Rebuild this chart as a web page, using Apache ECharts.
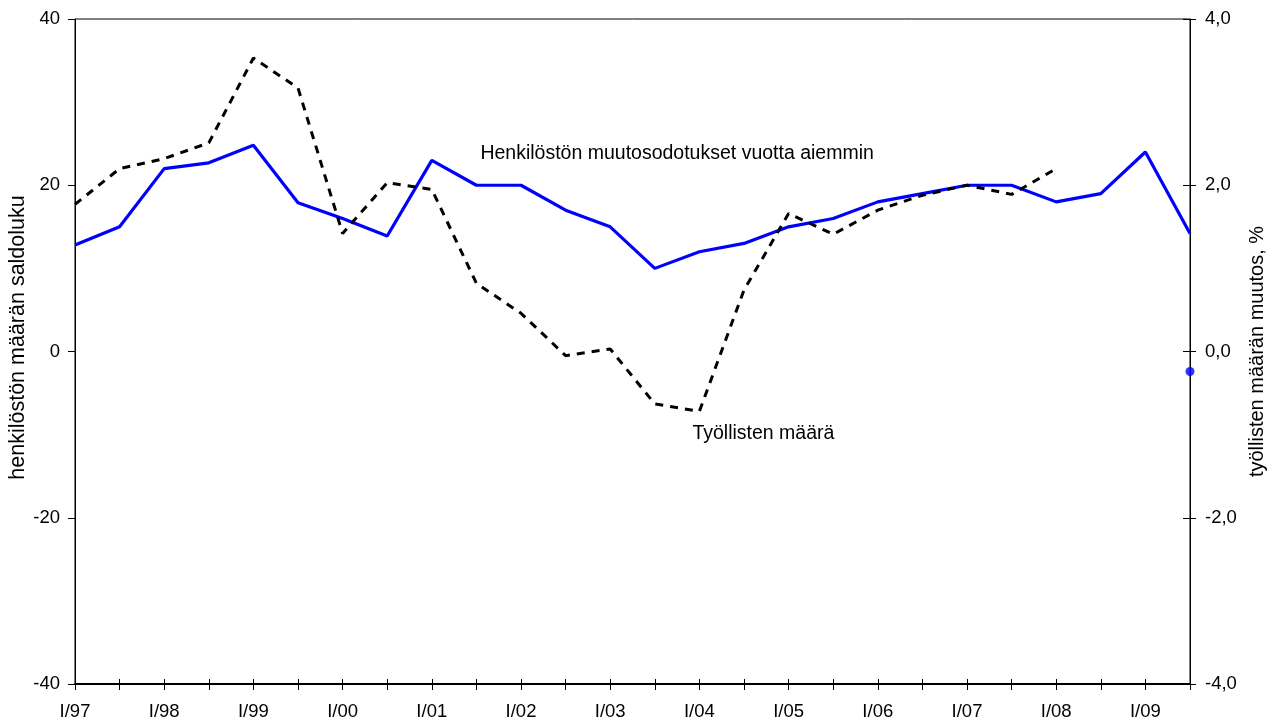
<!DOCTYPE html>
<html>
<head>
<meta charset="utf-8">
<script src="https://cdn.jsdelivr.net/npm/echarts@6/dist/echarts.min.js"></script>
<style>
html, body { margin: 0; padding: 0; background: #fff; }
#chart { width: 1274px; height: 724px; }
</style>
</head>
<body>
<div id="chart"></div>
<script>
// Half-year categories I/97 ... II/09
const categories = ['I/97','II/97','I/98','II/98','I/99','II/99','I/00','II/00','I/01','II/01','I/02','II/02','I/03','II/03','I/04','II/04','I/05','II/05','I/06','II/06','I/07','II/07','I/08','II/08','I/09','II/09'];

// Henkilöstön muutosodotukset vuotta aiemmin (left axis, saldoluku)
const expectations = [12.8, 15.0, 22.0, 22.7, 24.8, 17.9, 16.0, 13.9, 23.0, 20.0, 20.0, 17.0, 15.0, 10.0, 12.0, 13.0, 15.0, 16.0, 18.0, 19.0, 20.0, 20.0, 18.0, 19.0, 24.0, 14.2];

// Työllisten määrä (right axis, muutos %)
const employment = [1.77, 2.2, 2.32, 2.51, 3.53, 3.17, 1.42, 2.03, 1.95, 0.82, 0.46, -0.05, 0.03, -0.63, -0.72, 0.74, 1.66, 1.41, 1.70, 1.88, 2.0, 1.89, 2.2];

// Single forecast point (right axis)
const forecastCategory = 'II/09';
const forecastValue = -0.24;

const leftTicks = { min: -40, max: 40, interval: 20 };
const rightTicks = { min: -4, max: 4, interval: 2 };

const leftAxisName = 'henkilöstön määrän saldoluku';
const rightAxisName = 'työllisten määrän muutos, %';
const labelExpectations = 'Henkilöstön muutosodotukset vuotta aiemmin';
const labelEmployment = 'Työllisten määrä';

const FONT = "'Liberation Sans', Arial, Helvetica, sans-serif";
const chart = echarts.init(document.getElementById('chart'), null, { renderer: 'canvas' });

const commaFmt = v => (v === 0 ? '0,0' : v.toFixed(1).replace('.', ','));

const option = {
  animation: false,
  backgroundColor: '#ffffff',
  textStyle: { fontFamily: FONT, color: '#000' },
  grid: {
    left: 75, right: 84, top: 19, bottom: 40,
    containLabel: false, outerBoundsMode: 'none',
    show: true, borderColor: '#000', borderWidth: 1, backgroundColor: 'transparent'
  },
  xAxis: [
    {
      type: 'category', data: categories, boundaryGap: false, position: 'bottom',
      axisLine: { onZero: false, lineStyle: { color: '#000', width: 2 } },
      axisTick: { show: true, inside: false, length: 6, interval: 0, lineStyle: { color: '#000', width: 1 } },
      axisLabel: { interval: 1, margin: 18, color: '#000', fontSize: 18.5, fontFamily: FONT },
      splitLine: { show: false }
    },
    {
      type: 'category', data: categories, boundaryGap: false, position: 'bottom',
      axisLine: { show: false, onZero: false },
      axisTick: { show: true, inside: true, length: 5, interval: 0, lineStyle: { color: '#000', width: 1 } },
      axisLabel: { show: false },
      splitLine: { show: false }
    }
  ],
  yAxis: [
    {
      type: 'value', position: 'left',
      min: leftTicks.min, max: leftTicks.max, interval: leftTicks.interval,
      name: leftAxisName, nameLocation: 'middle', nameGap: 46, nameMoveOverlap: false,
      nameTextStyle: { fontSize: 21.5, color: '#000', fontFamily: FONT, padding: [0, 0, 0, 28] },
      axisLine: { show: true, lineStyle: { color: '#000', width: 1 } },
      axisTick: { show: true, inside: false, length: 7, lineStyle: { color: '#000' } },
      axisLabel: { margin: 15, color: '#000', fontSize: 18.5, fontFamily: FONT },
      splitLine: { show: false }
    },
    {
      type: 'value', position: 'right',
      min: rightTicks.min, max: rightTicks.max, interval: rightTicks.interval,
      name: rightAxisName, nameLocation: 'middle', nameGap: 56,
      nameTextStyle: { fontSize: 20, color: '#000', fontFamily: FONT },
      axisLine: { show: true, lineStyle: { color: '#000', width: 1 } },
      axisTick: { show: true, inside: false, length: 6, lineStyle: { color: '#000' } },
      axisLabel: { margin: 15, color: '#000', fontSize: 18.5, fontFamily: FONT, formatter: commaFmt },
      splitLine: { show: false }
    },
    {
      type: 'value', position: 'right',
      min: rightTicks.min, max: rightTicks.max, interval: rightTicks.interval,
      axisLine: { show: false },
      axisTick: { show: true, inside: true, length: 7, lineStyle: { color: '#000' } },
      axisLabel: { show: false },
      splitLine: { show: false }
    }
  ],
  series: [
    {
      name: labelExpectations,
      type: 'line', xAxisIndex: 0, yAxisIndex: 0,
      data: expectations,
      showSymbol: false, symbol: 'none',
      lineStyle: { color: '#0000ff', width: 3.2 },
      itemStyle: { color: '#0000ff' },
      z: 3,
      markPoint: {
        symbol: 'circle', symbolSize: 0,
        silent: true,
        label: {
          show: true, position: 'inside', align: 'left', verticalAlign: 'middle',
          color: '#000', fontSize: 19.5, fontFamily: FONT, offset: [4, 0],
          formatter: labelExpectations
        },
        data: [{ coord: [9, 23.8] }]
      }
    },
    {
      name: labelEmployment,
      type: 'line', xAxisIndex: 0, yAxisIndex: 1,
      data: employment,
      showSymbol: false, symbol: 'none',
      lineStyle: { color: '#000', width: 3, type: [8, 7] },
      itemStyle: { color: '#000' },
      z: 4,
      markPoint: {
        symbol: 'circle', symbolSize: 0,
        silent: true,
        label: {
          show: true, position: 'inside', align: 'left', verticalAlign: 'middle',
          color: '#000', fontSize: 19.5, fontFamily: FONT, offset: [-7, 0],
          formatter: labelEmployment
        },
        data: [{ coord: [14, -0.99] }]
      }
    },
    {
      name: 'ennuste',
      type: 'scatter', xAxisIndex: 0, yAxisIndex: 1,
      data: [[forecastCategory, forecastValue]],
      symbol: 'circle', symbolSize: 9,
      itemStyle: { color: '#0000ff' },
      z: 5
    }
  ]
};
chart.setOption(option);
</script>
</body>
</html>
